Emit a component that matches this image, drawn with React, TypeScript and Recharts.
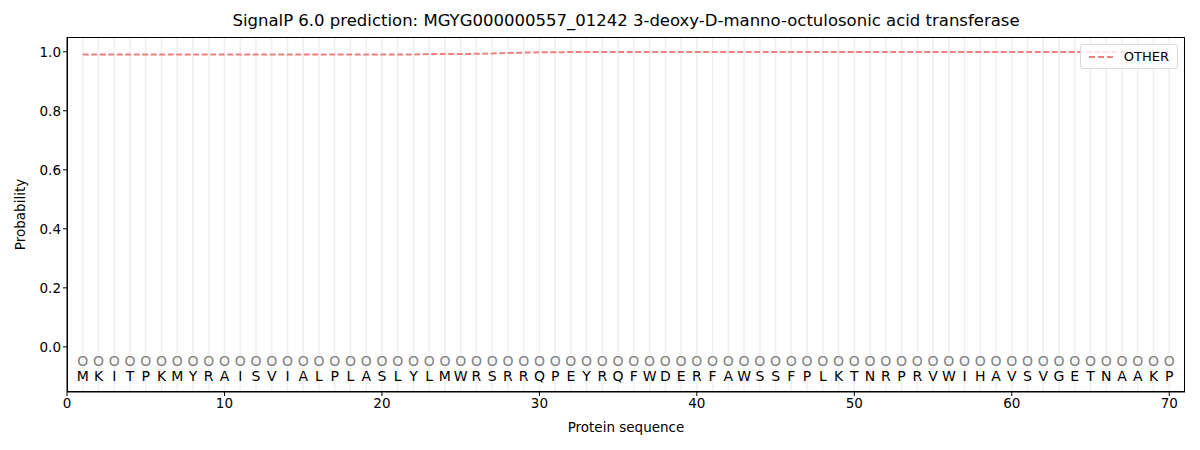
import React from "react";
import {
  ComposedChart,
  Line,
  Scatter,
  XAxis,
  YAxis,
  ReferenceLine,
  Label,
} from "recharts";

const sequence = "MKITPKMYRAISVIALPLASLYLMWRSRRQPEYRQFWDERFAWSSFPLKTNRPRVWIHAVSVGETNAAKP".split("");

const otherProb = [
  0.991, 0.991, 0.991, 0.991, 0.991, 0.991, 0.991, 0.991, 0.991, 0.991,
  0.991, 0.991, 0.991, 0.991, 0.991, 0.991, 0.991, 0.991, 0.991, 0.991,
  0.991, 0.991, 0.992, 0.992, 0.992, 0.993, 0.994, 0.996, 0.997, 0.998,
  0.998, 0.999, 0.999, 0.999, 0.999, 0.999, 0.999, 0.999, 0.999, 0.999,
  0.999, 0.999, 0.999, 0.999, 0.999, 0.999, 0.999, 0.999, 0.999, 0.999,
  0.999, 0.999, 0.999, 0.999, 0.999, 0.999, 0.999, 0.999, 0.999, 0.999,
  0.999, 0.999, 0.999, 0.999, 0.999, 0.999, 0.999, 0.999, 0.999, 0.999,
];

const xTicks = [0, 10, 20, 30, 40, 50, 60, 70];
const yTicks = [0, 0.2, 0.4, 0.6, 0.8, 1.0];

const FONT = "DejaVu Sans, sans-serif";
const LINE_COLOR = "#f08080";

const chartData = sequence.map((aa, i) => ({
  pos: i + 1,
  aa,
  OTHER: otherProb[i],
}));
const markData = sequence.map((aa, i) => ({ pos: i + 1, y: -0.047, aa }));
const letterData = sequence.map((aa, i) => ({ pos: i + 1, y: -0.1, aa }));

function MarkShape(props: any) {
  return (
    <text x={props.cx} y={props.cy} textAnchor="middle" dominantBaseline="central" fontSize={14} fill="#808080" fontFamily={FONT}>
      O
    </text>
  );
}

function LetterShape(props: any) {
  return (
    <text x={props.cx} y={props.cy} textAnchor="middle" dominantBaseline="central" fontSize={14} fill="#000" fontFamily={FONT}>
      {props.payload.aa}
    </text>
  );
}

function LegendBox() {
  return (
    <div
      style={{
        position: "absolute",
        left: 1080,
        top: 44,
        width: 98,
        boxSizing: "border-box",
        border: "1px solid #d9d9d9",
        borderRadius: 3,
        background: "rgba(255,255,255,0.8)",
        padding: "4px 8px",
        display: "flex",
        alignItems: "center",
        gap: 10,
        fontFamily: FONT,
        fontSize: 13,
        color: "#000",
      }}
    >
      <svg width={28} height={6}>
        <line x1={0} y1={3} x2={28} y2={3} stroke={LINE_COLOR} strokeWidth={2} strokeDasharray="6 3" />
      </svg>
      <span>OTHER</span>
    </div>
  );
}

export default function App() {
  return (
    <div style={{ position: "absolute", left: 0, top: 0, width: 1200, height: 450, background: "#fff" }}>
      <div
        style={{
          position: "absolute",
          left: 67,
          width: 1118,
          top: 11,
          textAlign: "center",
          fontFamily: FONT,
          fontSize: 16.5,
          color: "#000",
        }}
      >
        SignalP 6.0 prediction: MGYG000000557_01242 3-deoxy-D-manno-octulosonic acid transferase
      </div>
      <ComposedChart width={1200} height={450} data={chartData} margin={{ top: 37, right: 15, left: 0, bottom: 0 }}>
        {sequence.map((_, i) => (
          <ReferenceLine key={i} x={i + 1} stroke="#efefef" strokeWidth={1.5} />
        ))}
        <XAxis
          dataKey="pos"
          type="number"
          domain={[0, 71]}
          ticks={xTicks}
          allowDataOverflow
          height={58}
          tickSize={4}
          stroke="#000"
          tick={{ fontSize: 13.5, fill: "#000", fontFamily: FONT }}
        >
          <Label value="Protein sequence" position="insideBottom" offset={18} style={{ fontSize: 13.5, fill: "#000", fontFamily: FONT }} />
        </XAxis>
        <YAxis
          type="number"
          domain={[-0.153, 1.05]}
          ticks={yTicks}
          allowDataOverflow
          width={67}
          tickSize={4}
          stroke="#000"
          tickFormatter={(v) => v.toFixed(1)}
          tick={{ fontSize: 13.5, fill: "#000", fontFamily: FONT }}
        >
          <Label value="Probability" angle={-90} position="insideLeft" offset={20} style={{ fontSize: 13.5, fill: "#000", fontFamily: FONT, textAnchor: "middle" }} />
        </YAxis>
        <Line
          dataKey="OTHER"
          type="linear"
          stroke={LINE_COLOR}
          strokeWidth={2}
          strokeDasharray="6 2.5"
          dot={false}
          activeDot={false}
          isAnimationActive={false}
        />
        <Scatter data={markData} dataKey="y" shape={<MarkShape />} isAnimationActive={false} legendType="none" />
        <Scatter data={letterData} dataKey="y" shape={<LetterShape />} isAnimationActive={false} legendType="none" />
      </ComposedChart>
      <svg style={{ position: "absolute", left: 0, top: 0, pointerEvents: "none" }} width={1200} height={450}>
        <rect x={67.5} y={37.5} width={1117} height={354} fill="none" stroke="#000" strokeWidth={1} />
      </svg>
      <LegendBox />
    </div>
  );
}
